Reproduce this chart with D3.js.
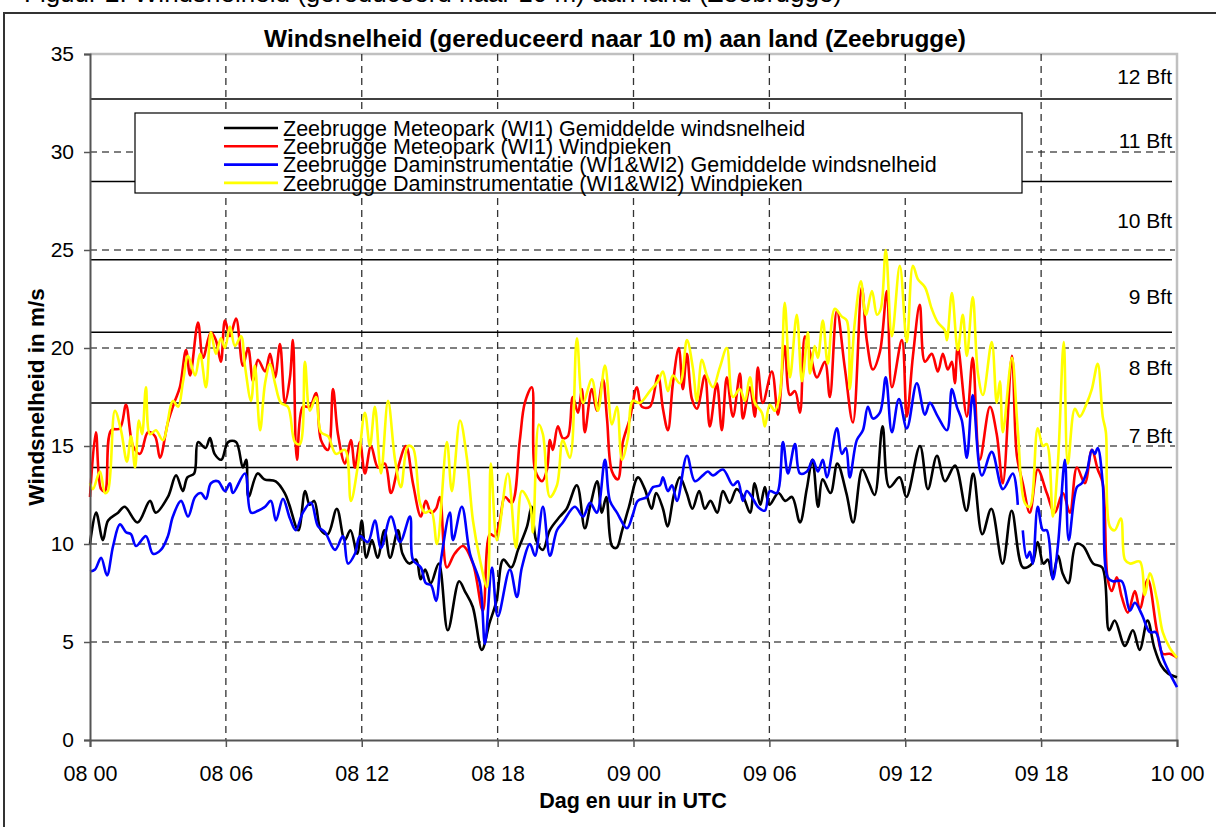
<!DOCTYPE html>
<html>
<head>
<meta charset="utf-8">
<script src="https://cdn.jsdelivr.net/npm/d3@7"></script>
<style>
  body { margin: 0; background: #fff; }
  text { font-family: "Liberation Sans", Arial, sans-serif; }
</style>
</head>
<body>
<div id="chart"></div>
<script>
// hours since 08 00 UTC, wind speed in m/s
const tickHours = [0, 6, 12, 18, 24, 30, 36, 42, 48];
const tickLabels = ["08 00", "08 06", "08 12", "08 18", "09 00", "09 06", "09 12", "09 18", "10 00"];
const yTicks = [0, 5, 10, 15, 20, 25, 30, 35];
const bftLimits = [13.9, 17.2, 20.8, 24.5, 28.5, 32.7];
const bftLabels = ["7 Bft", "8 Bft", "9 Bft", "10 Bft", "11 Bft", "12 Bft"];

const seriesNames = [
  "Zeebrugge Meteopark (WI1) Gemiddelde windsnelheid",
  "Zeebrugge Meteopark (WI1) Windpieken",
  "Zeebrugge Daminstrumentatie (WI1&WI2) Gemiddelde windsnelheid",
  "Zeebrugge Daminstrumentatie (WI1&WI2) Windpieken"
];
const seriesColors = ["#000000", "#ff0000", "#0000ff", "#ffff00"];

const meteoMean = [[0,10.0],[0.27,11.6],[0.57,10.2],[0.8,11.2],[1.24,11.6],[1.53,11.9],[2.1,11.1],[2.65,12.2],[2.9,11.6],[3.44,12.4],[3.8,13.5],[4.1,12.7],[4.3,13.4],[4.6,13.6],[4.77,15.2],[5.1,14.9],[5.3,15.4],[5.5,14.6],[5.8,14.3],[6.1,15.2],[6.45,15.2],[6.75,13.9],[6.9,14.3],[7.0,12.4],[7.4,13.6],[7.7,13.3],[8.2,13.2],[8.6,12.6],[8.8,12.0],[9.2,10.7],[9.5,12.7],[9.7,12.0],[9.9,12.2],[10.2,10.7],[10.5,10.5],[10.9,11.8],[11.25,10.2],[11.5,10.7],[11.8,9.5],[12.0,11.2],[12.2,9.3],[12.45,10.2],[12.7,9.3],[13.0,10.7],[13.25,9.3],[13.6,10.7],[13.8,9.5],[14.1,9.0],[14.4,9.2],[14.6,8.2],[14.8,8.7],[15.05,8.0],[15.4,9.0],[15.8,5.6],[16.3,8.1],[16.55,7.6],[16.9,6.8],[17.3,4.6],[17.65,6.0],[17.95,7.1],[18.25,9.2],[18.6,8.8],[18.9,9.7],[19.3,10.9],[19.5,11.9],[19.7,10.2],[20.0,9.7],[20.3,10.7],[20.75,11.4],[21.05,11.8],[21.5,13.0],[21.85,10.8],[22.1,12.0],[22.4,13.2],[22.6,11.6],[22.8,12.4],[23.05,9.9],[23.25,9.8],[23.5,10.7],[23.8,11.9],[24.2,13.4],[24.5,12.8],[24.8,11.8],[25.0,12.6],[25.3,11.8],[25.5,10.9],[25.8,12.6],[26.05,13.4],[26.35,12.6],[26.6,11.8],[26.9,12.7],[27.15,11.8],[27.4,12.2],[27.7,11.6],[27.95,12.7],[28.25,12.1],[28.55,12.8],[28.85,12.4],[29.15,11.6],[29.35,13.1],[29.6,12.0],[29.8,12.9],[30.0,12.0],[30.4,12.6],[30.7,12.2],[31.0,12.4],[31.35,11.1],[31.65,12.8],[31.9,14.3],[32.15,11.9],[32.35,13.3],[32.7,12.6],[33.0,14.1],[33.4,12.6],[33.7,11.1],[34.1,13.8],[34.4,13.1],[34.65,12.5],[35.0,16.0],[35.3,12.9],[35.75,13.4],[36.05,12.4],[36.65,15.0],[37.0,12.8],[37.4,14.5],[37.75,13.2],[38.2,14.0],[38.7,11.7],[39.0,13.6],[39.4,10.5],[39.8,11.8],[40.3,9.0],[40.7,11.7],[41.2,8.8],[41.6,9.0],[41.85,10.1],[42.1,9.0],[42.3,9.2],[42.5,8.3],[42.75,9.4],[42.95,8.5],[43.2,8.0],[43.55,10.0],[43.85,9.9],[44.3,9.0],[44.7,8.8],[45.0,5.6],[45.25,6.1],[45.7,4.8],[46.05,5.6],[46.35,4.6],[46.7,6.1],[47.0,4.7],[47.3,3.8],[47.6,3.4],[48,3.2]];

const meteoGust = [[0,12.4],[0.26,15.7],[0.49,12.8],[0.66,12.7],[0.93,15.8],[1.32,15.9],[1.59,17.1],[1.9,15.0],[2.21,14.6],[2.56,15.7],[2.87,15.5],[3.09,14.4],[3.44,16.2],[3.75,17.3],[3.97,18.0],[4.24,19.9],[4.42,18.6],[4.77,21.3],[4.99,19.5],[5.34,20.8],[5.56,20.4],[5.78,19.3],[5.96,21.4],[6.18,20.6],[6.45,21.5],[6.75,19.1],[6.98,20.0],[7.2,18.3],[7.42,19.4],[7.73,18.8],[7.95,19.7],[8.17,18.5],[8.39,20.2],[8.61,17.2],[8.83,18.5],[8.96,20.4],[9.14,14.3],[9.4,17.0],[9.71,17.0],[9.98,17.7],[10.2,15.3],[10.51,14.8],[10.73,17.9],[10.95,15.6],[11.26,14.1],[11.52,15.3],[11.7,13.9],[11.92,15.2],[12.14,13.6],[12.41,15.0],[12.72,13.9],[13.02,14.1],[13.29,12.6],[13.6,13.9],[13.95,15.0],[14.26,13.1],[14.61,11.4],[14.83,12.2],[15.06,11.6],[15.28,11.8],[15.45,12.4],[15.76,8.8],[16.1,9.5],[16.47,9.9],[16.91,9.0],[17.35,6.6],[17.66,10.5],[17.88,10.4],[18.1,11.2],[18.32,12.4],[18.63,12.1],[18.98,15.3],[19.2,17.2],[19.51,18.0],[19.65,13.8],[19.96,13.2],[20.18,13.8],[20.31,15.3],[20.44,14.8],[20.66,16.0],[20.88,15.4],[21.1,15.5],[21.32,17.5],[21.55,16.7],[21.72,17.9],[21.85,15.7],[22.16,17.9],[22.38,16.8],[22.65,18.4],[22.83,16.4],[23.05,13.7],[23.31,13.3],[23.53,15.2],[23.84,16.4],[24.15,18.0],[24.37,17.0],[24.72,17.0],[25.08,18.6],[25.3,16.9],[25.52,15.8],[25.74,18.2],[26.0,20.0],[26.18,17.9],[26.36,19.7],[26.58,17.4],[26.8,16.9],[27.15,18.6],[27.37,16.0],[27.68,18.2],[27.9,15.8],[28.12,18.5],[28.39,16.5],[28.7,18.7],[28.83,16.4],[29.14,18.0],[29.36,16.5],[29.49,19.0],[29.71,17.2],[30.11,18.8],[30.38,16.6],[30.68,20.1],[30.91,17.6],[31.13,17.8],[31.35,16.7],[31.57,20.6],[31.79,19.8],[32.1,18.5],[32.45,19.3],[32.67,17.5],[32.98,21.9],[33.33,19.0],[33.69,16.2],[34.08,23.1],[34.3,20.4],[34.57,18.9],[34.88,19.8],[35.19,22.9],[35.41,18.0],[35.85,20.4],[36.07,16.5],[36.34,19.6],[36.64,22.2],[36.87,19.3],[37.17,19.7],[37.44,18.8],[37.66,19.7],[37.88,18.9],[38.06,19.3],[38.19,18.2],[38.32,20.1],[38.72,16.5],[38.98,19.5],[39.29,14.3],[39.74,17.0],[40.04,15.6],[40.31,13.1],[40.71,19.6],[40.93,14.5],[41.19,13.1],[41.5,11.6],[41.85,13.8],[42.25,12.6],[42.6,11.6],[42.96,12.6],[43.27,11.6],[43.58,13.9],[43.93,13.1],[44.24,14.8],[44.5,13.8],[44.72,13.1],[44.94,8.2],[45.12,7.6],[45.34,8.3],[45.56,7.3],[45.83,6.5],[46.14,7.6],[46.36,6.7],[46.71,8.2],[47.11,5.6],[47.37,4.4],[47.68,4.4],[48,4.2]];

const damMean = [[0,8.6],[0.22,8.7],[0.49,9.3],[0.75,8.4],[1.02,9.9],[1.32,11.0],[1.59,10.6],[1.81,10.5],[2.03,9.9],[2.47,10.4],[2.78,9.5],[3.13,9.7],[3.44,10.4],[3.66,11.4],[4.02,12.2],[4.33,11.4],[4.64,12.4],[4.9,12.6],[5.12,12.3],[5.34,13.1],[5.65,13.2],[5.96,12.7],[6.18,13.1],[6.31,12.6],[6.84,13.6],[7.11,11.6],[7.42,11.7],[7.73,11.9],[7.99,12.2],[8.21,11.2],[8.52,12.3],[8.83,11.3],[9.09,10.7],[9.4,11.6],[9.76,12.1],[10.07,10.9],[10.38,10.6],[10.82,9.7],[11.17,10.4],[11.39,9.0],[11.7,9.5],[11.92,10.4],[12.27,10.1],[12.58,11.2],[12.85,9.8],[13.29,11.4],[13.69,10.1],[14.13,11.4],[14.26,9.2],[14.61,8.8],[14.83,8.0],[15.06,7.9],[15.28,7.1],[15.5,9.2],[15.89,11.6],[16.03,10.2],[16.42,11.9],[16.78,9.5],[17.22,8.0],[17.44,4.9],[17.75,8.8],[18.01,6.3],[18.54,8.7],[18.85,7.3],[19.07,8.8],[19.43,10.0],[19.65,9.4],[20.0,11.9],[20.31,9.4],[20.62,10.7],[20.88,11.1],[21.41,11.9],[21.77,11.4],[22.08,12.1],[22.38,11.6],[22.74,14.3],[22.96,12.2],[23.27,11.6],[23.71,10.8],[23.97,11.5],[24.19,12.2],[24.59,12.4],[24.86,12.9],[25.17,13.0],[25.3,13.4],[25.52,12.7],[25.7,13.0],[25.92,12.2],[26.36,14.5],[26.71,13.2],[27.06,13.5],[27.28,13.7],[27.51,13.5],[27.95,13.8],[28.39,13.0],[28.61,13.2],[28.83,12.2],[29.0,12.7],[29.23,12.4],[29.49,11.9],[29.8,11.7],[30.02,12.7],[30.33,12.6],[30.6,15.2],[30.82,13.6],[31.13,15.1],[31.35,13.6],[31.66,13.7],[31.92,14.3],[32.14,13.7],[32.36,14.3],[32.54,13.4],[32.98,15.9],[33.2,14.6],[33.38,14.9],[33.55,13.4],[33.86,15.3],[34.13,15.8],[34.35,17.0],[34.57,16.4],[34.88,16.7],[35.14,18.5],[35.41,15.7],[35.72,17.4],[36.07,15.9],[36.51,18.2],[36.87,16.6],[37.09,17.2],[37.44,16.5],[37.84,15.8],[38.06,17.9],[38.28,17.0],[38.5,16.3],[38.72,14.4],[38.98,17.6],[39.38,13.5],[39.82,14.7],[40.31,12.8],[40.75,13.6],[40.97,12.0],[41.08,null],[41.19,10.7],[41.37,9.3],[41.5,9.6],[41.63,9.0],[41.85,11.9],[42.08,10.7],[42.25,10.7],[42.52,8.2],[42.74,9.9],[43.05,14.3],[43.22,10.2],[43.58,12.9],[43.8,13.1],[44.02,13.7],[44.24,14.8],[44.37,14.6],[44.5,14.9],[44.72,13.1],[44.94,8.3],[45.17,8.1],[45.56,8.1],[45.92,6.6],[46.14,7.0],[46.45,6.4],[46.8,5.5],[47.06,5.5],[47.37,4.2],[47.68,3.4],[48,2.7]];

const damGust = [[0,13.1],[0.13,12.8],[0.44,13.7],[0.66,12.6],[0.79,12.7],[1.1,16.8],[1.37,15.8],[1.63,14.2],[1.81,15.5],[1.99,13.9],[2.16,16.3],[2.3,15.6],[2.47,18.0],[2.65,15.6],[2.91,15.8],[3.22,15.3],[3.66,17.3],[3.89,17.0],[4.11,18.3],[4.33,19.6],[4.64,18.6],[4.86,19.7],[5.12,18.0],[5.34,20.8],[5.56,19.7],[5.78,20.5],[5.96,20.0],[6.18,21.1],[6.4,20.1],[6.67,20.6],[6.84,19.1],[7.11,17.3],[7.28,19.1],[7.51,15.8],[7.73,18.2],[7.95,19.2],[8.17,18.2],[8.43,17.2],[8.74,17.0],[9.05,15.2],[9.27,15.1],[9.49,19.3],[9.71,16.8],[9.98,17.5],[10.2,15.7],[10.51,15.5],[10.86,14.6],[11.26,14.8],[11.52,12.2],[11.83,14.0],[12.14,16.7],[12.36,15.0],[12.58,17.0],[12.85,13.6],[13.16,17.3],[13.47,14.3],[13.73,12.9],[14.04,15.0],[14.26,14.9],[14.57,12.1],[14.79,11.6],[15.06,11.7],[15.32,10.0],[15.76,15.2],[15.98,12.7],[16.34,16.3],[16.64,14.4],[16.91,11.2],[17.22,9.2],[17.53,7.8],[17.7,14.1],[17.97,10.2],[18.45,13.6],[18.81,9.8],[19.07,12.7],[19.43,12.0],[19.56,10.6],[19.82,16.1],[20.0,15.6],[20.31,12.4],[20.62,13.0],[20.88,15.3],[21.19,14.4],[21.5,20.5],[21.77,17.2],[22.16,18.4],[22.43,16.8],[22.74,19.1],[23.05,16.1],[23.27,17.0],[23.49,14.3],[23.75,15.4],[23.97,17.3],[24.28,17.2],[24.72,17.8],[25.08,18.3],[25.3,18.8],[25.52,17.8],[25.74,18.6],[26.05,18.2],[26.36,20.4],[26.62,19.0],[26.8,17.3],[27.02,19.4],[27.24,18.6],[27.51,18.0],[27.81,19.0],[28.12,20.0],[28.39,17.5],[28.7,17.9],[28.92,17.3],[29.14,18.5],[29.36,17.2],[29.67,16.7],[29.8,16.0],[30.02,17.1],[30.24,16.8],[30.46,17.6],[30.68,22.3],[30.91,18.5],[31.21,21.7],[31.44,18.3],[31.7,20.8],[31.79,18.7],[32.0,20.1],[32.14,19.5],[32.36,21.4],[32.58,19.2],[32.89,22.0],[33.2,21.6],[33.42,21.4],[33.55,17.9],[33.77,21.3],[34.04,23.4],[34.26,21.7],[34.53,22.9],[34.75,21.7],[34.92,22.0],[35.14,25.0],[35.41,20.6],[35.76,24.2],[36.07,20.3],[36.34,24.2],[36.56,23.5],[36.87,23.1],[37.17,22.0],[37.44,21.3],[37.75,20.9],[37.84,20.4],[38.06,22.8],[38.32,19.9],[38.54,21.7],[38.72,19.6],[38.98,22.6],[39.21,18.7],[39.43,17.6],[39.82,20.3],[40.04,17.2],[40.18,18.3],[40.31,15.7],[40.71,19.5],[40.97,15.8],[41.28,12.1],[41.5,11.9],[41.85,15.9],[42.08,15.0],[42.25,15.1],[42.52,11.4],[42.74,14.1],[43.0,20.3],[43.18,14.1],[43.49,16.9],[43.71,16.5],[44.02,17.2],[44.24,17.9],[44.5,19.2],[44.72,16.5],[44.86,15.7],[45.03,10.9],[45.25,10.7],[45.52,11.3],[45.7,9.2],[45.92,9.0],[46.36,9.1],[46.58,7.4],[46.8,8.5],[47.11,7.2],[47.37,5.5],[47.68,4.7],[48,4.2]];

const seriesData = [meteoMean, meteoGust, damMean, damGust];

const width = 1216, height = 827;
const plotLeft = 90, plotRight = 1177, plotTop = 54, plotBottom = 740;

const svg = d3.select("#chart").append("svg")
    .attr("width", width)
    .attr("height", height);

const x = d3.scaleLinear().domain([0, 48]).range([plotLeft, plotRight]);
const y = d3.scaleLinear().domain([0, 35]).range([plotBottom, plotTop]);

// outer frame and the cut-off caption above it
svg.append("rect")
    .attr("x", 4).attr("y", 13)
    .attr("width", 1240).attr("height", 900)
    .attr("fill", "none")
    .attr("stroke", "#333")
    .attr("stroke-width", 2);

svg.append("text")
    .attr("x", 24).attr("y", 2)
    .attr("font-size", 26)
    .text("Figuur 2: Windsnelheid (gereduceerd naar 10 m) aan land (Zeebrugge)");

// plot area border (top / right, light gray)
svg.append("path")
    .attr("d", `M${plotLeft},${plotTop}H${plotRight}V${plotBottom}`)
    .attr("fill", "none")
    .attr("stroke", "#c0c0c0")
    .attr("stroke-width", 2.5);

// horizontal dashed gridlines
svg.append("g").selectAll("line")
    .data(yTicks.filter(d => d > 0 && d < 35))
    .enter().append("line")
    .attr("x1", plotLeft).attr("x2", plotRight - 2)
    .attr("y1", d => y(d)).attr("y2", d => y(d))
    .attr("stroke", "#555")
    .attr("stroke-width", 1.3)
    .attr("stroke-dasharray", "7,5");

// vertical dashed gridlines
svg.append("g").selectAll("line")
    .data(tickHours.filter(d => d > 0 && d < 48))
    .enter().append("line")
    .attr("x1", d => x(d)).attr("x2", d => x(d))
    .attr("y1", plotTop).attr("y2", plotBottom)
    .attr("stroke", "#333")
    .attr("stroke-width", 1.3)
    .attr("stroke-dasharray", "7,5");

// Beaufort thresholds
svg.append("g").selectAll("line")
    .data(bftLimits)
    .enter().append("line")
    .attr("x1", plotLeft).attr("x2", plotRight - 5)
    .attr("y1", d => y(d)).attr("y2", d => y(d))
    .attr("stroke", "#000")
    .attr("stroke-width", 1.5);

svg.append("g").selectAll("text")
    .data(bftLabels)
    .enter().append("text")
    .attr("x", plotRight - 5)
    .attr("y", (d, i) => y(((i + 1 < bftLimits.length ? bftLimits[i + 1] : 35) + bftLimits[i]) / 2))
    .attr("dy", "0.36em")
    .attr("text-anchor", "end")
    .attr("font-size", 21)
    .text(d => d);

// series
const line = d3.line()
    .defined(d => d[1] != null)
    .x(d => x(d[0]))
    .y(d => y(d[1]))
    .curve(d3.curveCatmullRom.alpha(0.5));

svg.append("g").selectAll("path")
    .data(seriesData)
    .enter().append("path")
    .attr("d", line)
    .attr("fill", "none")
    .attr("stroke", (d, i) => seriesColors[i])
    .attr("stroke-width", 2.6)
    .attr("stroke-linejoin", "round");

// axes
const yAxis = svg.append("g")
    .attr("transform", `translate(${plotLeft},0)`)
    .call(d3.axisLeft(y).tickValues(yTicks).tickSize(6).tickPadding(10));
yAxis.select(".domain").attr("stroke", "#555").attr("stroke-width", 2);
yAxis.selectAll(".tick line").attr("stroke", "#555").attr("stroke-width", 1.5);
yAxis.selectAll("text").attr("font-size", 21).attr("fill", "#000")
    .style("font-family", "'Liberation Sans', Arial, sans-serif");

const xAxis = svg.append("g")
    .attr("transform", `translate(0,${plotBottom})`)
    .call(d3.axisBottom(x).tickValues(tickHours).tickFormat((d, i) => tickLabels[i]).tickSize(7).tickPadding(19));
xAxis.select(".domain").attr("stroke", "#555").attr("stroke-width", 2);
xAxis.selectAll(".tick line").attr("stroke", "#555").attr("stroke-width", 1.5);
xAxis.selectAll("text").attr("font-size", 21.5).attr("fill", "#000")
    .style("font-family", "'Liberation Sans', Arial, sans-serif");

// titles
svg.append("text")
    .attr("x", 615).attr("y", 47)
    .attr("text-anchor", "middle")
    .attr("font-size", 24.4)
    .attr("font-weight", "bold")
    .text("Windsnelheid (gereduceerd naar 10 m) aan land (Zeebrugge)");

svg.append("text")
    .attr("x", 633).attr("y", 808)
    .attr("text-anchor", "middle")
    .attr("font-size", 21.5)
    .attr("font-weight", "bold")
    .text("Dag en uur in UTC");

svg.append("text")
    .attr("transform", "translate(44,397) rotate(-90)")
    .attr("text-anchor", "middle")
    .attr("font-size", 22.5)
    .attr("font-weight", "bold")
    .text("Windsnelheid in m/s");

// legend
const legend = svg.append("g");
legend.append("rect")
    .attr("x", 135).attr("y", 113)
    .attr("width", 887).attr("height", 80)
    .attr("fill", "#fff")
    .attr("stroke", "#000")
    .attr("stroke-width", 1.2);

const items = legend.selectAll(".item")
    .data(seriesNames)
    .enter().append("g")
    .attr("class", "item")
    .attr("transform", (d, i) => `translate(0,${128 + i * 18.3})`);

items.append("line")
    .attr("x1", 224).attr("x2", 278)
    .attr("stroke", (d, i) => seriesColors[i])
    .attr("stroke-width", 2.6);

items.append("text")
    .attr("x", 283)
    .attr("dy", "0.36em")
    .attr("font-size", 21.5)
    .text(d => d);
</script>
</body>
</html>
